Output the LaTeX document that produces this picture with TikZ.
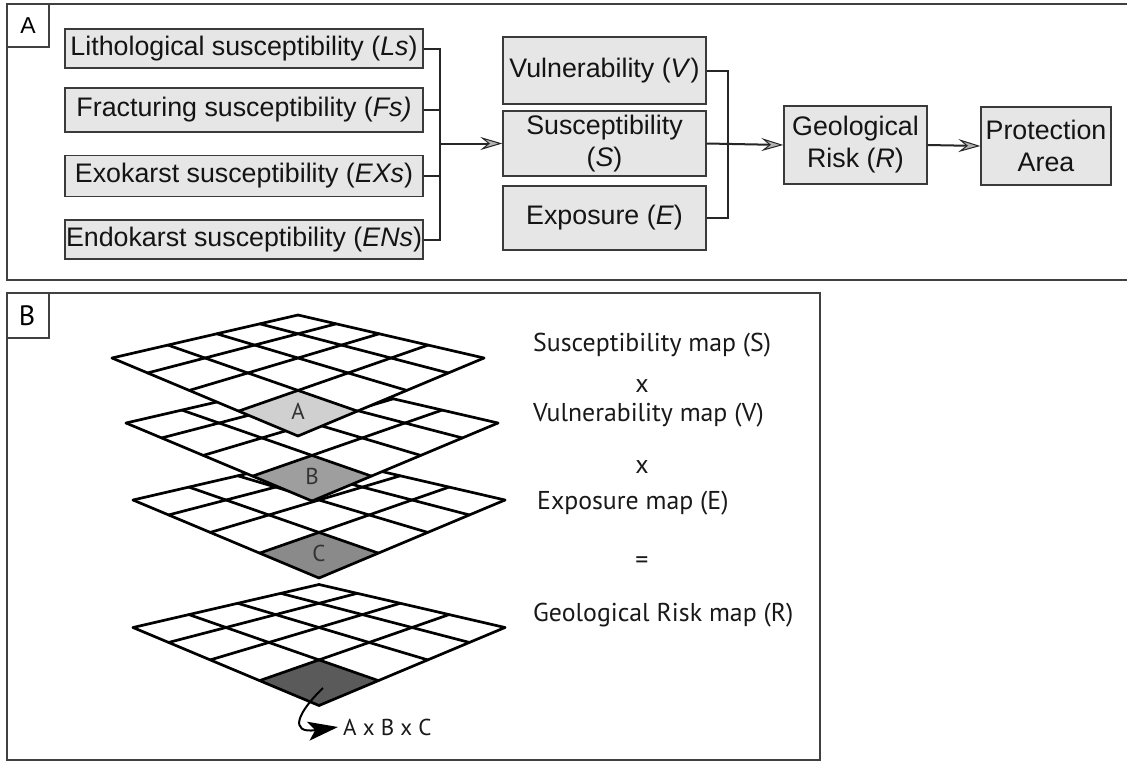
\documentclass[tikz,border=0pt]{standalone}
\usepackage{fontspec}
\setmainfont{Liberation Sans}
\newfontfamily\bfont{PT Sans}
\usetikzlibrary{arrows.meta,calc}
\definecolor{boxfill}{HTML}{E6E6E6}
\definecolor{edge}{HTML}{3A3A3A}
\definecolor{cellA}{HTML}{D0D0D0}
\definecolor{cellB}{HTML}{9E9E9E}
\definecolor{cellC}{HTML}{8A8A8A}
\definecolor{cellD}{HTML}{5A5A5A}
\tikzset{
  box/.style={draw=edge, fill=boxfill, line width=1.4pt, inner sep=0pt, align=center,
    font=\fontsize{26.8}{32}\selectfont, text=black!92},
  conn/.style={draw=black!85, line width=2pt},
  arr/.style={conn, -{Stealth[length=22pt,width=13pt,inset=8pt,fill=gray!60,line width=1pt]}},
  frame/.style={draw=black!75, line width=1.4pt},
  gline/.style={line width=2.7pt, line join=round, line cap=round},
  btext/.style={font=\bfont\fontsize{25.8}{30}\selectfont, inner sep=0pt, text=black!90},
  celltext/.style={font=\bfont\fontsize{23}{26}\selectfont, inner sep=0pt, text=black!80},
}
% perspective grid parameters
\def\gw{1.2893}
\def\gh{186}
\def\ga{43}
\newcommand{\gpt}[3]{%
  \pgfmathsetmacro\gD{\gw+(#2+#3)*(1-\gw)}%
  \pgfmathsetmacro\gX{\gh*(#2-#3)/\gD}%
  \pgfmathsetmacro\gY{-\gw*\ga*(1-#2-#3)/\gD}%
  \coordinate (#1) at (\gX,\gY);}
\newcommand{\gridlayer}[5]{%
  \begin{scope}[shift={(#1,#2)}]
    \gpt{gt}{0}{0}\gpt{gr}{1}{0}\gpt{gb}{1}{1}\gpt{gl}{0}{1}
    \fill[white] (gt) -- (gr) -- (gb) -- (gl) -- cycle;
    \gpt{s1}{0.75}{0.75}\gpt{s2}{1}{0.75}\gpt{s3}{1}{1}\gpt{s4}{0.75}{1}
    \fill[#3] (s1) -- (s2) -- (s3) -- (s4) -- cycle;
    \foreach \gi in {0,...,4}{
      \pgfmathsetmacro\gu{\gi/4}
      \gpt{pa}{\gu}{0}\gpt{pb}{\gu}{1}
      \draw[gline] (pa) -- (pb);
      \gpt{pc}{0}{\gu}\gpt{pd}{1}{\gu}
      \draw[gline] (pc) -- (pd);
    }
    \gpt{lc}{0.875}{0.875}
    \node[celltext] (#5) at (lc) {#4};
  \end{scope}}
\begin{document}
\begin{tikzpicture}[x=1pt,y=-1pt]
\useasboundingbox (0,0) rectangle (1127,763);
\fill[white] (0,0) rectangle (1127,763);
% ---------------- Panel A
\draw[frame] (7,4) rectangle (1140,280);
\draw[frame] (7,4) rectangle (49,47);
\node[font=\fontsize{23}{26}\selectfont, inner sep=0pt] (la) at (28,25.5) {A};

\node[box, minimum width=358pt, minimum height=39pt] (ls) at (244,48.5) {Lithological susceptibility (\textit{Ls})};
\node[box, minimum width=358pt, minimum height=44pt] (fs) at (244,110) {Fracturing susceptibility (\textit{Fs)}};
\node[box, minimum width=358pt, minimum height=41pt] (ex) at (244,176) {Exokarst susceptibility (\textit{EXs})};
\node[box, minimum width=358pt, minimum height=39pt] (en) at (244,239.5) {Endokarst susceptibility (\textit{ENs})};

\node[box, minimum width=203pt, minimum height=67pt] (v) at (604.5,70.5) {Vulnerability (\textit{V})};
\node[box, minimum width=203pt, minimum height=65pt] (s) at (604.5,143.5) {Susceptibility\\(\textit{S})};
\node[box, minimum width=203pt, minimum height=64pt] (e) at (604.5,218) {Exposure (\textit{E})};

\node[box, minimum width=143pt, minimum height=78pt] (r) at (855.5,145) {Geological\\Risk (\textit{R})};
\node[box, minimum width=130pt, minimum height=78pt] (p) at (1046,146) {Protection\\Area};

\coordinate (j1) at (440,143.5);
\coordinate (j2) at (728,143.5);
\draw[conn] (ls.east) -| (j1);
\draw[conn] (en.east) -| (j1);
\draw[conn] (fs.east) -- (fs.east -| j1);
\draw[conn] (ex.east) -- (ex.east -| j1);
\draw[arr] (j1) -- (s.west);

\draw[conn] (v.east) -| (j2);
\draw[conn] (e.east) -| (j2);
\draw[arr] (s.east) -- (r.west);
\draw[arr] (r.east) -- (p.west);

% ---------------- Panel B
\draw[frame] (7,293) rectangle (820,760);
\draw[frame] (7,293) rectangle (49,338);
\node[font=\bfont\fontsize{28}{30}\selectfont, inner sep=0pt] (lb) at (27,316) {B};

\gridlayer{319}{627.5}{cellD}{}{cd}
\gridlayer{319}{500}{cellC}{C}{cc}
\gridlayer{312}{423}{cellB}{B}{cb}
\gridlayer{298}{358}{cellA}{A}{ca}

\node[btext, anchor=west] (t1) at (533,345) {Susceptibility map (S)};
\node[btext] (x1) at (642,386) {x};
\node[btext, anchor=west] (t2) at (533,415) {Vulnerability map (V)};
\node[btext] (x2) at (642,467) {x};
\node[btext, anchor=west] (t3) at (537,503) {Exposure map (E)};
\node[btext] (eq) at (642,563) {=};
\node[btext, anchor=west] (t4) at (533,615) {Geological Risk map (R)};

\node[btext, anchor=west, font=\bfont\fontsize{23}{26}\selectfont] (axb) at (343,727) {A x B x C};
\coordinate (ax0) at (323,688);
\draw[line width=2pt, -{Stealth[length=30pt,width=19pt,inset=7pt]}]
  (ax0) .. controls (298,712) and (288,734) .. ([xshift=-5pt]axb.west);
\end{tikzpicture}
\end{document}
